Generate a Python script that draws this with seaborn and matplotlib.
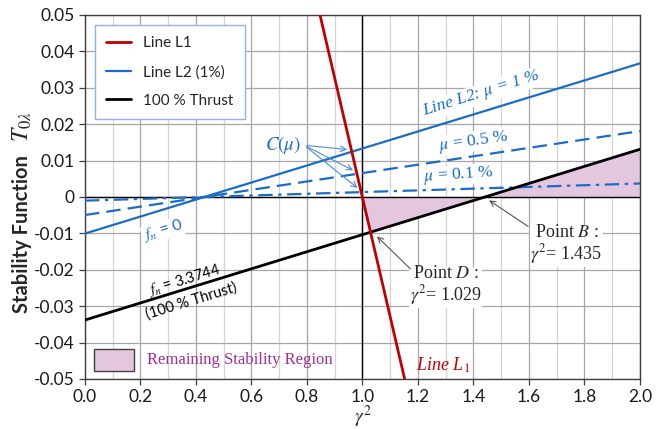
import numpy as np
import pandas as pd
import matplotlib
matplotlib.use("Agg")
import matplotlib.pyplot as plt
import seaborn as sns
from matplotlib.patches import Rectangle
from matplotlib.lines import Line2D

# ---------------- data ----------------
gamma_ends = [0.0, 2.0]
l2_mu1 = [-0.01005, 0.0367]      # Line L2, mu = 1 %
l2_mu05 = [-0.00496, 0.0181]     # mu = 0.5 %
l2_mu01 = [-0.00101, 0.0037]     # mu = 0.1 %
thrust100 = [-0.0338, 0.0131]    # 100 % Thrust
l1_gamma = [0.847, 1.152]        # Line L1
l1_value = [0.05, -0.05]

x_ticks = [0.0, 0.2, 0.4, 0.6, 0.8, 1.0, 1.2, 1.4, 1.6, 1.8, 2.0]
x_tick_labels = ["0.0", "0.2", "0.4", "0.6", "0.8", "1.0", "1.2", "1.4", "1.6", "1.8", "2.0"]
y_ticks = [-0.05, -0.04, -0.03, -0.02, -0.01, 0.0, 0.01, 0.02, 0.03, 0.04, 0.05]
y_tick_labels = ["-0.05", "-0.04", "-0.03", "-0.02", "-0.01", "0", "0.01", "0.02", "0.03", "0.04", "0.05"]

# ---------------- style ----------------
sns.set_style("white")
plt.rcParams["font.family"] = ["Lato", "DejaVu Sans"]
plt.rcParams["mathtext.fontset"] = "stix"

RED = "#C00000"
BLUE = "#1B6CC6"
SERIF = ["Liberation Serif", "DejaVu Serif"]

fig = plt.figure(figsize=(6.66, 4.29), dpi=100)
ax = fig.add_axes([0.1276, 0.1166, 0.8333, 0.8485])

df_blue = pd.DataFrame({"gamma2": gamma_ends, "mu1": l2_mu1, "mu05": l2_mu05,
                        "mu01": l2_mu01, "thrust": thrust100})
df_l1 = pd.DataFrame({"gamma2": l1_gamma, "T": l1_value})

# fill: remaining stability region
pb = np.polyfit(gamma_ends, thrust100, 1)
pr = np.polyfit(l1_gamma, l1_value, 1)
x0 = -pr[1] / pr[0]
xf = np.linspace(x0, 2.0, 400)
lower = np.maximum(np.polyval(pb, xf), np.polyval(pr, xf))
ax.fill_between(xf, 0, lower, color="#E4C6DF", lw=0, zorder=1.5)

sns.lineplot(data=df_blue, x="gamma2", y="mu1", ax=ax, color=BLUE, lw=1.6, zorder=3)
sns.lineplot(data=df_blue, x="gamma2", y="mu05", ax=ax, color=BLUE, lw=1.6,
             linestyle=(0, (6.5, 3.2)), zorder=3)
sns.lineplot(data=df_blue, x="gamma2", y="mu01", ax=ax, color=BLUE, lw=1.6,
             linestyle=(0, (6.5, 2.5, 1.5, 2.5)), zorder=3)
sns.lineplot(data=df_blue, x="gamma2", y="thrust", ax=ax, color="black", lw=2.0, zorder=3.2)
sns.lineplot(data=df_l1, x="gamma2", y="T", ax=ax, color=RED, lw=2.0, zorder=3.4)

ax.axhline(0, color="black", lw=1.0, zorder=2.2)
ax.axvline(1.0, color="black", lw=1.0, zorder=2.2)

ax.set_xlim(0, 2.0)
ax.set_ylim(-0.05, 0.05)
ax.set_xticks(x_ticks)
ax.set_xticklabels(x_tick_labels)
ax.set_xticks(np.arange(0.1, 2.0, 0.2), minor=True)
ax.set_yticks(y_ticks)
ax.set_yticklabels(y_tick_labels)
ax.grid(which="major", axis="both", color="#A6A6A6", lw=0.9, zorder=0)
ax.grid(which="minor", axis="x", color="#D4D4D4", lw=0.9, zorder=0)
ax.set_axisbelow(True)
ax.tick_params(which="major", direction="out", length=4, width=0.9, color="#404040",
               labelsize=12.5, labelcolor="#1a1a1a", left=True, bottom=True)
ax.tick_params(which="minor", length=0)
for s in ax.spines.values():
    s.set_color("#404040")
    s.set_linewidth(1.0)

ax.set_xlabel(r"$\gamma^2$", fontsize=14, labelpad=-1)
ax.set_ylabel("")
fig.text(22 / 666, 1 - 234 / 429, "Stability Function", fontsize=14.5, fontweight="bold",
         rotation=90, ha="center", va="center")
fig.text(22 / 666, 1 - 127 / 429, r"$T_{0\lambda}$", fontsize=17,
         rotation=90, ha="center", va="center")

# legend
handles = [Line2D([], [], color=RED, lw=2.0),
           Line2D([], [], color=BLUE, lw=1.6),
           Line2D([], [], color="black", lw=2.0)]
leg = ax.legend(handles, ["Line L1", "Line L2 (1%)", "100 % Thrust"], loc="upper left",
                bbox_to_anchor=(0.018, 0.9725), borderaxespad=0, fontsize=11, frameon=True,
                fancybox=False, edgecolor="#8EB4E3", framealpha=1, handlelength=1.6,
                labelspacing=0.95, borderpad=0.75, handletextpad=0.8)
leg.get_frame().set_linewidth(1.0)
leg.set_zorder(6)

# remaining stability region key
ax.add_patch(Rectangle((0.016, 0.022), 0.072, 0.06, transform=ax.transAxes,
                       facecolor="#E4C6DF", edgecolor="#404040", lw=1.0, zorder=6))
ax.text(0.112, 0.052, "Remaining Stability Region", transform=ax.transAxes,
        family=SERIF, fontsize=12, color="#A0308F", va="center", ha="left", zorder=6)

# annotations
wb = dict(facecolor="white", edgecolor="none", pad=0.5)
ax.text(1.43, 0.0283, r"Line L2: $\mu$ = 1 %", family=SERIF, style="italic", fontsize=12.5,
        color=BLUE, rotation=17.5, ha="center", va="center", bbox=wb, zorder=2.5)
ax.text(1.40, 0.0153, r"$\mu$ = 0.5 %", family=SERIF, fontsize=12.5,
        color=BLUE, rotation=8, ha="center", va="center", bbox=wb, zorder=2.5)
ax.text(1.345, 0.0060, r"$\mu$ = 0.1 %", family=SERIF, fontsize=12.5,
        color=BLUE, rotation=4, ha="center", va="center", bbox=wb, zorder=2.5)
ax.text(0.715, 0.0143, r"$C(\mu)$", fontsize=13.5, color=BLUE, ha="center", va="center", zorder=5)

p1 = np.polyfit(gamma_ends, l2_mu1, 1)
p05 = np.polyfit(gamma_ends, l2_mu05, 1)
p01 = np.polyfit(gamma_ends, l2_mu01, 1)
for p, xt in [(p1, 0.955), (p05, 0.975), (p01, 0.99)]:
    ax.annotate("", xy=(xt, np.polyval(p, xt) + 0.0007), xytext=(0.79, 0.0142),
                arrowprops=dict(arrowstyle="->", color="#4A8FDA", lw=0.8), zorder=5)

ax.text(0.28, -0.0093, r"$f_n$ = 0", fontsize=11.5, color=BLUE, rotation=17,
        ha="center", va="center", bbox=wb, zorder=2.5)
xt_f = 0.37
ax.text(xt_f, np.polyval(pb, xt_f) - 0.0004, "$f_n$ = 3.3744\n(100 % Thrust)", fontsize=10.5,
        color="black", rotation=17, ha="center", va="center", linespacing=1.45, zorder=3.5)

ax.text(1.735, -0.0132, "Point $B$ :\n$\\gamma^2$= 1.435", family=SERIF, fontsize=13,
        ha="center", va="center", linespacing=1.05, bbox=wb, zorder=2.5)
ax.annotate("", xy=(1.448, -0.0005), xytext=(1.605, -0.0085),
            arrowprops=dict(arrowstyle="->", color="#555555", lw=0.8), zorder=5)
ax.text(1.30, -0.0245, "Point $D$ :\n$\\gamma^2$= 1.029", family=SERIF, fontsize=13,
        ha="center", va="center", linespacing=1.05, bbox=wb, zorder=2.5)
ax.annotate("", xy=(1.045, -0.0103), xytext=(1.18, -0.0203),
            arrowprops=dict(arrowstyle="->", color="#555555", lw=0.8), zorder=5)

ax.text(1.29, -0.0462, "Line L$_1$", family=SERIF, style="italic", fontsize=13,
        color=RED, ha="center", va="center", zorder=5)

fig.savefig("out.png", dpi=100)
